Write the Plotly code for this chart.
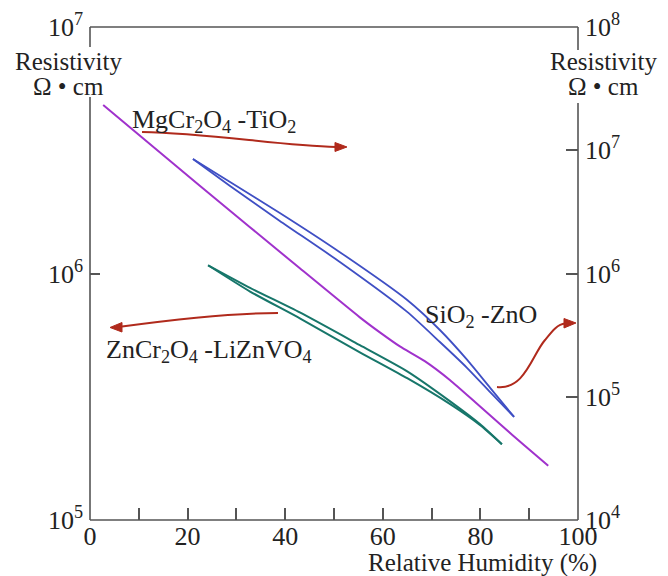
import plotly.graph_objects as go

# ---------------- data ----------------
# MgCr2O4-TiO2 (left axis)
rh_mg = [2.7, 22.5, 43.0, 55.3, 59.4, 63.5, 68.6, 73.8, 78.9, 84.0, 89.1, 93.9]
res_mg = [4.83e6, 2.27e6, 1.05e6, 6.64e5, 5.77e5, 5.06e5, 4.41e5, 3.69e5, 3.01e5, 2.45e5, 2.00e5, 1.66e5]

# SiO2-ZnO (right axis), two branches
rh_si = [21.1, 28.7, 38.9, 51.2, 65.0, 71.7, 77.3, 82.0, 86.9]
res_si_up = [8.49e6, 5.52e6, 3.10e6, 1.49e6, 6.10e5, 3.48e5, 1.99e5, 1.18e5, 6.86e4]
res_si_lo = [8.49e6, 5.13e6, 2.67e6, 1.24e6, 4.88e5, 2.78e5, 1.71e5, 1.09e5, 6.86e4]

# ZnCr2O4-LiZnVO4 (left axis), two branches
rh_zn = [24.2, 32.8, 43.0, 55.3, 65.0, 73.8, 79.9, 84.4]
res_zn_up = [1.08e6, 8.75e5, 6.95e5, 5.12e5, 4.01e5, 3.03e5, 2.45e5, 2.03e5]
res_zn_lo = [1.08e6, 8.45e5, 6.58e5, 4.79e5, 3.76e5, 2.95e5, 2.43e5, 2.03e5]

x_ticks = [0, 10, 20, 30, 40, 50, 60, 70, 80, 90, 100]
x_ticktext = ["0", "", "20", "", "40", "", "60", "", "80", "", "100"]
yl_ticks = [1e5, 1e6, 1e7]
yl_text = ["10<sup>5</sup>", "10<sup>6</sup>", "10<sup>7</sup>"]
yr_ticks = [1e4, 1e5, 1e6, 1e7, 1e8]
yr_text = ["10<sup>4</sup>", "10<sup>5</sup>", "10<sup>6</sup>", "10<sup>7</sup>", "10<sup>8</sup>"]

# ---------------- layout constants ----------------
W, H = 668, 576
L, R, T, B = 90, 578, 27, 520
FONT = "Liberation Serif"
TXT = "#222222"
FRAME = "#555555"
PURPLE = "#a032cc"
BLUE = "#3f4fc4"
TEAL = "#17766a"
RED = "#b02a1c"


def pxx(x):
    return (x - L) / (R - L)


def pyy(y):
    return (B - y) / (B - T)


def path(cmds):
    out = []
    for c in cmds:
        letter, pts = c[0], c[1:]
        out.append(letter + " " + " ".join(f"{pxx(a):.4f},{pyy(b):.4f}" for a, b in pts))
    return " ".join(out)


fig = go.Figure()
fig.add_trace(go.Scatter(x=rh_mg, y=res_mg, mode="lines",
                         line=dict(color=PURPLE, width=2, shape="spline", smoothing=0.5),
                         showlegend=False, hoverinfo="skip"))
fig.add_trace(go.Scatter(x=rh_zn, y=res_zn_up, mode="lines",
                         line=dict(color=TEAL, width=2, shape="spline", smoothing=0.6),
                         showlegend=False, hoverinfo="skip"))
fig.add_trace(go.Scatter(x=rh_zn, y=res_zn_lo, mode="lines",
                         line=dict(color=TEAL, width=2, shape="spline", smoothing=0.6),
                         showlegend=False, hoverinfo="skip"))
fig.add_trace(go.Scatter(x=rh_si, y=res_si_up, mode="lines", yaxis="y2",
                         line=dict(color=BLUE, width=1.8, shape="spline", smoothing=0.6),
                         showlegend=False, hoverinfo="skip"))
fig.add_trace(go.Scatter(x=rh_si, y=res_si_lo, mode="lines", yaxis="y2",
                         line=dict(color=BLUE, width=1.8, shape="spline", smoothing=0.6),
                         showlegend=False, hoverinfo="skip"))

shapes = []
# frame with gaps for axis labels
for (x0, y0, x1, y1) in [(L, T, R, T), (L, B, R, B), (L, T, L, 47), (L, 97, L, B),
                          (R, T, R, 50), (R, 103, R, B)]:
    shapes.append(dict(type="line", xref="paper", yref="paper",
                       x0=pxx(x0), y0=pyy(y0), x1=pxx(x1), y1=pyy(y1),
                       line=dict(color=FRAME, width=1.6)))

# red arrows (curves + heads)
arrows = [
    ([("M", (142, 132)), ("C", (210, 133), (280, 146), (336, 147))],
     [(347, 147), (335, 142.5), (335, 151.5)]),
    ([("M", (278, 313)), ("C", (230, 313), (170, 320), (122, 326.5))],
     [(110, 327.5), (122, 322.5), (122, 332)]),
    ([("M", (497, 387)), ("C", (525, 390), (532, 355), (545, 340)),
      ("C", (553, 330), (558, 324), (565, 323.5))],
     [(576, 323), (564, 318.5), (564, 328)]),
]
for curve, head in arrows:
    shapes.append(dict(type="path", xref="paper", yref="paper",
                       path=path(curve), line=dict(color=RED, width=2)))
    hp = "M " + " L ".join(f"{pxx(a):.4f},{pyy(b):.4f}" for a, b in head) + " Z"
    shapes.append(dict(type="path", xref="paper", yref="paper", path=hp,
                       fillcolor=RED, line=dict(color=RED, width=1)))

annotations = []


def add_text(text, x, y, xanchor="left", size=26):
    annotations.append(dict(text=text, x=pxx(x), y=pyy(y), xref="paper", yref="paper",
                            xanchor=xanchor, yanchor="middle", showarrow=False,
                            borderpad=0, font=dict(family=FONT, size=size, color=TXT)))


add_text("MgCr<sub>2</sub>O<sub>4</sub> -TiO<sub>2</sub>", 131, 121)
add_text("ZnCr<sub>2</sub>O<sub>4</sub> -LiZnVO<sub>4</sub>", 105, 351)
add_text("SiO<sub>2</sub> -ZnO", 424, 316)
add_text("Resistivity", 68, 62, "center", 25)
add_text("Ω • cm", 68, 86, "center", 25)
add_text("Resistivity", 603, 62, "center", 25)
add_text("Ω • cm", 603, 86, "center", 25)
add_text("Relative Humidity (%)", 598, 563, "right", 25)

tickfont = dict(family=FONT, size=26, color=TXT)
fig.update_layout(
    width=W, height=H, autosize=False,
    margin=dict(l=L, r=W - R, t=T, b=H - B, pad=0, autoexpand=False),
    paper_bgcolor="white", plot_bgcolor="white",
    showlegend=False,
    xaxis=dict(range=[0, 100], tickmode="array", tickvals=x_ticks, ticktext=x_ticktext,
               ticks="inside", ticklen=12, tickwidth=1.5, tickcolor=FRAME, automargin=False,
               ticklabelstandoff=-2,
               showgrid=False, zeroline=False, showline=False, tickfont=tickfont),
    yaxis=dict(type="log", range=[5, 7], tickmode="array", tickvals=yl_ticks, ticktext=yl_text,
               ticks="inside", ticklen=10, tickwidth=1.5, tickcolor=FRAME, automargin=False,
               ticklabelstandoff=6,
               showgrid=False, zeroline=False, showline=False, tickfont=tickfont),
    yaxis2=dict(type="log", range=[4, 8], overlaying="y", side="right", tickmode="array",
                tickvals=yr_ticks, ticktext=yr_text, automargin=False,
                ticks="inside", ticklen=12, tickwidth=1.5, tickcolor=FRAME,
                ticklabelstandoff=6,
                showgrid=False, zeroline=False, showline=False, tickfont=tickfont),
    shapes=shapes,
    annotations=annotations,
)

fig.write_html("out.html", config={"displayModeBar": False},
               post_script="document.body.style.margin='0';document.body.style.padding='0';")
